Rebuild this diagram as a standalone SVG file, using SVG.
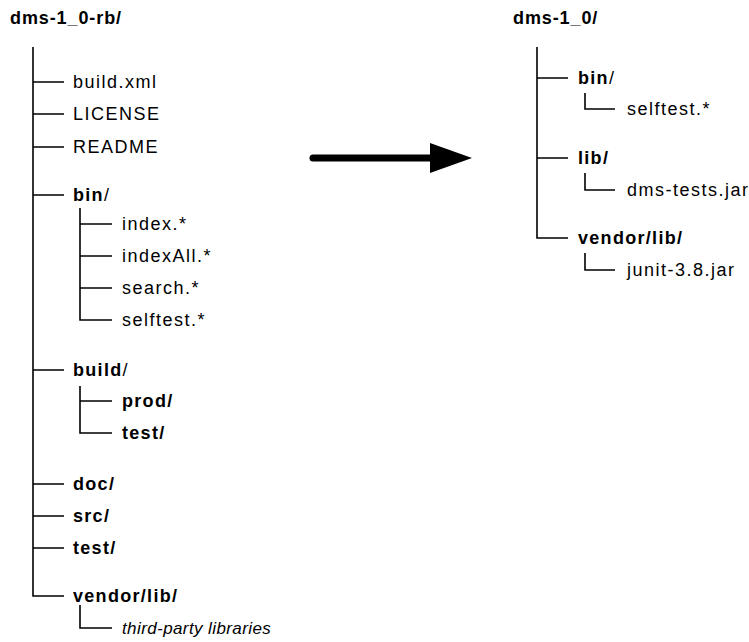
<svg xmlns="http://www.w3.org/2000/svg" width="749" height="642" viewBox="0 0 749 642">
<style>
text{font-family:"Liberation Sans",Arial,sans-serif;font-size:18px;fill:#000;letter-spacing:1.5px}
.b{font-weight:bold;letter-spacing:1.3px}
.i{font-style:italic;font-size:17px;letter-spacing:0.4px}
.t{font-weight:bold;font-size:18px;letter-spacing:0.9px}
.ln{stroke:#000;stroke-width:1.6;fill:none}
</style>
<rect width="749" height="642" fill="#fff"/>
<g id="connectors" class="ln">
<path d="M33,47V596H64M33,82H64M33,114H64M33,147H64M33,195H64M33,370H64M33,484H64M33,516H64M33,548H64"/>
<path d="M80,208V320H112M80,224H112M80,256H112M80,288H112"/>
<path d="M80,386V433H112M80,401H112"/>
<path d="M80,605V628H112"/>
<path d="M537,47V238H568M537,78H568M537,158H568"/>
<path d="M585,93V109H615M585,173V190H615M585,253V270H615"/>
</g>
<g id="arrow">
<line x1="313" y1="158" x2="434" y2="158" stroke="#000" stroke-width="7" stroke-linecap="round"/>
<polygon points="430,143 472,158 430,173" fill="#000"/>
</g>
<g id="left-root"><text class="t" x="10" y="24">dms-1_0-rb/</text></g>
<g id="build-xml"><text x="73" y="88">build.xml</text></g>
<g id="license"><text x="73" y="120">LICENSE</text></g>
<g id="readme"><text x="73" y="153">README</text></g>
<g id="bin"><text x="73" y="201"><tspan class="b">bin</tspan>/</text></g>
<g id="index"><text x="122" y="230">index.*</text></g>
<g id="indexall"><text x="122" y="262">indexAll.*</text></g>
<g id="search"><text x="122" y="294">search.*</text></g>
<g id="selftest"><text x="122" y="326">selftest.*</text></g>
<g id="build"><text x="73" y="376"><tspan class="b">build</tspan>/</text></g>
<g id="prod"><text class="b" x="122" y="407">prod/</text></g>
<g id="build-test"><text class="b" x="122" y="439">test/</text></g>
<g id="doc"><text class="b" x="73" y="490">doc/</text></g>
<g id="src"><text class="b" x="73" y="522">src/</text></g>
<g id="test"><text class="b" x="73" y="554">test/</text></g>
<g id="vendor-lib"><text class="b" x="73" y="602">vendor/lib/</text></g>
<g id="third-party"><text class="i" x="122" y="634">third-party libraries</text></g>
<g id="right-root"><text class="t" x="513" y="24">dms-1_0/</text></g>
<g id="r-bin"><text x="578" y="84"><tspan class="b">bin</tspan>/</text></g>
<g id="r-selftest"><text x="627" y="115">selftest.*</text></g>
<g id="r-lib"><text class="b" x="578" y="164">lib/</text></g>
<g id="r-jar"><text x="627" y="196">dms-tests.jar</text></g>
<g id="r-vendor"><text class="b" x="578" y="244">vendor/lib/</text></g>
<g id="r-junit"><text x="627" y="276">junit-3.8.jar</text></g>
</svg>
